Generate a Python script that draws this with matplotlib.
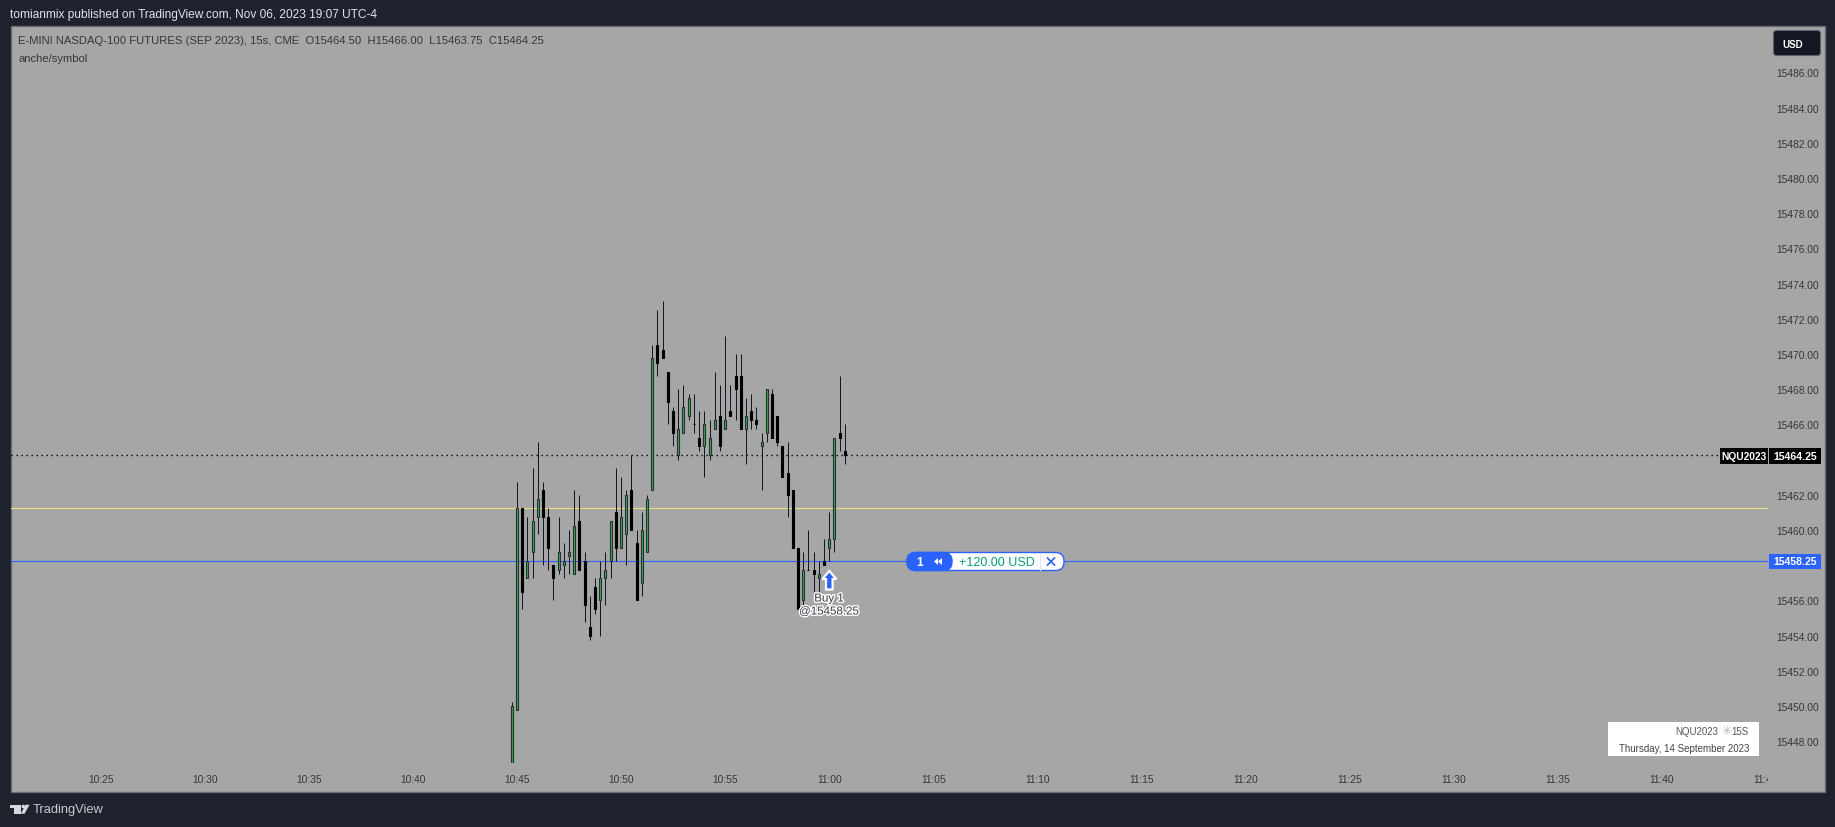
import matplotlib
matplotlib.use("Agg")
import matplotlib.pyplot as plt
from matplotlib.patches import Rectangle, FancyBboxPatch, Polygon, Circle
from matplotlib.transforms import Bbox
import matplotlib.patheffects as pe

W, H = 1835, 828
DARK = "#1e222d"; PANE = "#a6a6a6"; BLUE = "#2962ff"
plt.rcParams['font.family'] = ['Liberation Sans', 'DejaVu Sans']

opens = [15446.5,15449.75,15461.25,15457.25,15458.75,15460.75,15462.25,15460.75,15458.0,15457.75,15458.0,15458.5,15457.5,15460.5,15458.25,15454.5,15456.75,15456.0,15457.25,15458.25,15461.0,15459.0,15459.75,15462.25,15459.25,15457.0,15458.75,15462.25,15470.5,15470.25,15469.0,15466.75,15464.25,15465.5,15466.5,15466.0,15465.25,15464.75,15464.25,15465.75,15466.5,15465.75,15466.75,15468.75,15468.75,15465.75,15466.75,15466.25,15464.75,15465.5,15467.75,15466.5,15464.75,15463.25,15462.25,15459.0,15456.0,15457.75,15457.75,15457.25,15458.25,15459.0,15459.5,15465.5,15464.5]
highs = [15450.25,15462.75,15461.25,15460.75,15463.5,15465.0,15462.75,15461.25,15458.0,15460.75,15459.25,15460.0,15462.25,15462.0,15458.75,15456.25,15457.25,15458.25,15458.75,15460.5,15463.5,15463.0,15462.25,15464.25,15460.0,15461.0,15462.0,15470.5,15472.5,15473.0,15469.0,15467.0,15468.0,15468.25,15467.75,15467.75,15466.75,15466.75,15466.25,15469.0,15468.25,15471.0,15468.25,15470.0,15470.0,15467.5,15467.75,15467.0,15465.5,15468.0,15468.0,15466.5,15464.75,15465.0,15462.25,15459.0,15458.75,15460.0,15458.75,15458.25,15459.5,15461.0,15465.25,15468.75,15466.0]
lows = [15446.5,15449.75,15455.5,15457.25,15457.25,15459.75,15458.0,15457.75,15456.0,15457.5,15457.25,15457.5,15457.5,15457.75,15454.75,15453.75,15455.25,15454.0,15455.75,15457.25,15458.25,15459.0,15458.0,15460.0,15456.0,15456.25,15458.75,15462.25,15468.75,15469.75,15466.0,15464.75,15464.0,15465.5,15466.25,15465.5,15464.5,15463.0,15464.0,15465.75,15464.5,15465.75,15466.5,15466.25,15465.75,15463.75,15465.75,15465.75,15462.25,15465.0,15465.25,15464.75,15463.0,15460.75,15459.0,15455.5,15455.5,15457.75,15456.5,15456.5,15458.0,15458.25,15458.75,15464.5,15463.75]
closes = [15450.0,15461.25,15456.5,15458.25,15460.5,15461.75,15460.75,15459.0,15457.25,15458.75,15458.25,15458.75,15460.25,15457.75,15455.75,15454.0,15455.5,15457.25,15457.75,15460.5,15459.0,15460.75,15462.0,15460.0,15456.0,15460.0,15461.75,15469.75,15469.5,15469.75,15467.25,15465.5,15465.75,15467.0,15467.5,15466.0,15464.75,15466.0,15465.25,15466.25,15464.75,15466.25,15466.5,15468.0,15465.75,15466.5,15466.25,15466.0,15465.0,15468.0,15465.25,15465.0,15463.0,15462.0,15459.0,15455.5,15457.75,15457.75,15457.5,15457.5,15458.0,15459.5,15465.25,15465.25,15464.25]
first_bar_minute = -0.25      # minutes from 10:45
bar_minutes = 0.25
price_ticks = [15486,15484,15482,15480,15478,15476,15474,15472,15470,15468,15466,15462,15460,15456,15454,15452,15450,15448]
time_ticks = [-20,-15,-10,-5,0,5,10,15,20,25,30,35,40,45,50,55,60]
time_labels = ["10:25","10:30","10:35","10:40","10:45","10:50","10:55","11:00","11:05","11:10","11:15","11:20","11:25","11:30","11:35","11:40","11:45"]
last_price = 15464.25
entry_price = 15458.25
avg_price = 15461.25

fig = plt.figure(figsize=(W/100, H/100), dpi=100, facecolor=DARK)

# pixel overlay for the interface furniture
bg = fig.add_axes([0, 0, 1, 1], zorder=0); bg.set_xlim(0, W); bg.set_ylim(H, 0); bg.axis("off")
bg.add_patch(Rectangle((10.5, 27), 1814, 765.5, fc=PANE, ec="#6a6d75", lw=1.0))

# main chart axes
L, R, T, B = 11, 1768, 28, 764
ax = fig.add_axes([L/W, 1-B/H, (R-L)/W, (B-T)/H], zorder=1)
ax.patch.set_alpha(0)
for s in ax.spines.values():
    s.set_visible(False)
px_per_min = 5.203 / bar_minutes
ax.set_xlim((L-517.0)/px_per_min, (R-517.0)/px_per_min)
ax.set_ylim(15486-(B-73.5)/17.6, 15486-(T-73.5)/17.6)
ax.yaxis.tick_right()
ax.set_yticks(price_ticks, [f"{p:.2f}" for p in price_ticks])
ax.set_xticks(time_ticks, time_labels)
ax.tick_params(axis="both", length=0, labelsize=7.4, labelcolor="#33363e")
ax.tick_params(axis="y", pad=6.2)
ax.tick_params(axis="x", pad=8.2)

ax.axhline(last_price, color="#000000", lw=1.0, ls=(0, (1, 2.6)), zorder=1)
ax.axhline(avg_price, color="#ece07c", lw=0.8, zorder=1)
ax.axhline(entry_price, color=BLUE, lw=0.8, zorder=1)

times = [first_bar_minute + i*bar_minutes for i in range(len(opens))]
body_w = 2.0 / px_per_min
for t, o, h, l, c in zip(times, opens, highs, lows, closes):
    up = c > o
    wick = ax.vlines(t, l, h, color="#131722", lw=0.72, zorder=2)
    wick.set_snap(True)
    ax.bar(t, abs(c-o), bottom=min(o, c), width=body_w,
           color="#2fb344" if up else "#000000",
           edgecolor="#2a2e39" if up else "#000000", linewidth=0.8, zorder=3)

# clip the last time label at the price scale
fig.canvas.draw()
lab = ax.get_xticklabels()[-1]
lab.set_clip_box(Bbox([[0, 0], [R, H]]))
lab.set_clip_on(True)

# overlay on top
ov = fig.add_axes([0, 0, 1, 1], zorder=5); ov.set_xlim(0, W); ov.set_ylim(H, 0); ov.axis("off"); ov.patch.set_alpha(0)

ov.text(10, 15, "tomianmix published on TradingView.com, Nov 06, 2023 19:07 UTC-4", color="#e0e3eb", fontsize=8.6, va="center", family=['Liberation Sans'])
ov.text(18, 41.5, "E-MINI NASDAQ-100 FUTURES (SEP 2023), 15s, CME  O15464.50  H15466.00  L15463.75  C15464.25", color="#33363e", fontsize=8.1, va="center")
ov.text(18, 59, "anche/symbol", color="#33363e", fontsize=8.1, va="center")

# USD button
ov.add_patch(FancyBboxPatch((1773.5, 31.5), 47, 25, boxstyle="round,pad=0,rounding_size=3", fc="#131722", ec="#5d606b", lw=0.8))
ov.text(1782, 44.5, "USD", color="white", fontsize=7, weight="bold", va="center")

# price labels
ov.add_patch(Rectangle((1719.5, 449), 48, 15.5, fc="black", ec="none"))
ov.add_patch(Rectangle((1769, 449), 52, 15.5, fc="black", ec="none"))
ov.text(1743.5, 456.8, "NQU2023", color="white", fontsize=7.4, weight="bold", ha="center", va="center")
ov.text(1795, 456.8, f"{last_price:.2f}", color="white", fontsize=7.6, weight="bold", ha="center", va="center")
ov.add_patch(Rectangle((1769, 555), 52, 15, fc=BLUE, ec="none"))
ov.text(1795, 562.5, f"{entry_price:.2f}", color="white", fontsize=7.6, weight="bold", ha="center", va="center")

# order pill
ov.add_patch(FancyBboxPatch((907, 553.5), 157, 18, boxstyle="round,pad=0,rounding_size=8.5", fc="white", ec=BLUE, lw=1))
ov.add_patch(FancyBboxPatch((907, 553.5), 45, 18, boxstyle="round,pad=0,rounding_size=8.5", fc=BLUE, ec=BLUE, lw=1))
ov.plot([1039.5, 1039.5], [554, 571], color="#dfe6f5", lw=0.8)
ov.text(920, 562.8, "1", color="white", fontsize=8.5, weight="bold", ha="center", va="center")
ov.add_patch(Polygon([[938, 559], [938, 566], [934, 562.5]], fc="white", ec="none"))
ov.add_patch(Polygon([[942, 559], [942, 566], [938, 562.5]], fc="white", ec="none"))
ov.text(997, 562.8, "+120.00 USD", color="#089981", fontsize=9.0, ha="center", va="center")
ov.plot([1047.5, 1054.5], [559, 566], color=BLUE, lw=1.2)
ov.plot([1047.5, 1054.5], [566, 559], color=BLUE, lw=1.2)

# buy marker
arrow = [[829.3, 572], [836.3, 580], [832.6, 580], [832.6, 590.5], [826, 590.5], [826, 580], [822.3, 580]]
ov.add_patch(Polygon(arrow, closed=True, fc=BLUE, ec="white", lw=1.6, joinstyle="miter"))
halo = [pe.withStroke(linewidth=2, foreground="white")]
ov.text(829, 599.5, "Buy 1", color="#3a3d45", fontsize=8.3, ha="center", va="center", path_effects=halo)
ov.text(829, 612.5, "@15458.25", color="#3a3d45", fontsize=8.3, ha="center", va="center", path_effects=halo)

# snapshot caption
ov.add_patch(Rectangle((1608, 723), 151, 34, fc="white", ec="none"))
ov.text(1749, 732, "15S", color="#555", fontsize=7, ha="right", va="center")
ov.text(1727, 732, "\u2733", color="#bbbbbb", fontsize=9, ha="center", va="center", family=['DejaVu Sans'])
ov.text(1718, 732, "NQU2023", color="#555", fontsize=7, ha="right", va="center")
ov.text(1749, 749, "Thursday, 14 September 2023", color="#444", fontsize=7, ha="right", va="center")

# logo
lc = "#d6d8de"
ov.add_patch(Polygon([[10, 805.7], [20.5, 805.7], [20.5, 814.7], [14.2, 814.7], [14.2, 809.3], [10, 809.3]], fc=lc, ec="none"))
ov.add_patch(Circle((23.3, 807.5), 1.8, fc=lc, ec="none"))
ov.add_patch(Polygon([[25.7, 805.7], [29.5, 805.7], [24.6, 814.7], [20.7, 814.7]], fc=lc, ec="none"))
ov.text(33, 810.5, "TradingView", color="#c8cad0", fontsize=9.3, va="center")

fig.savefig("out.png", dpi=100, facecolor=DARK)
